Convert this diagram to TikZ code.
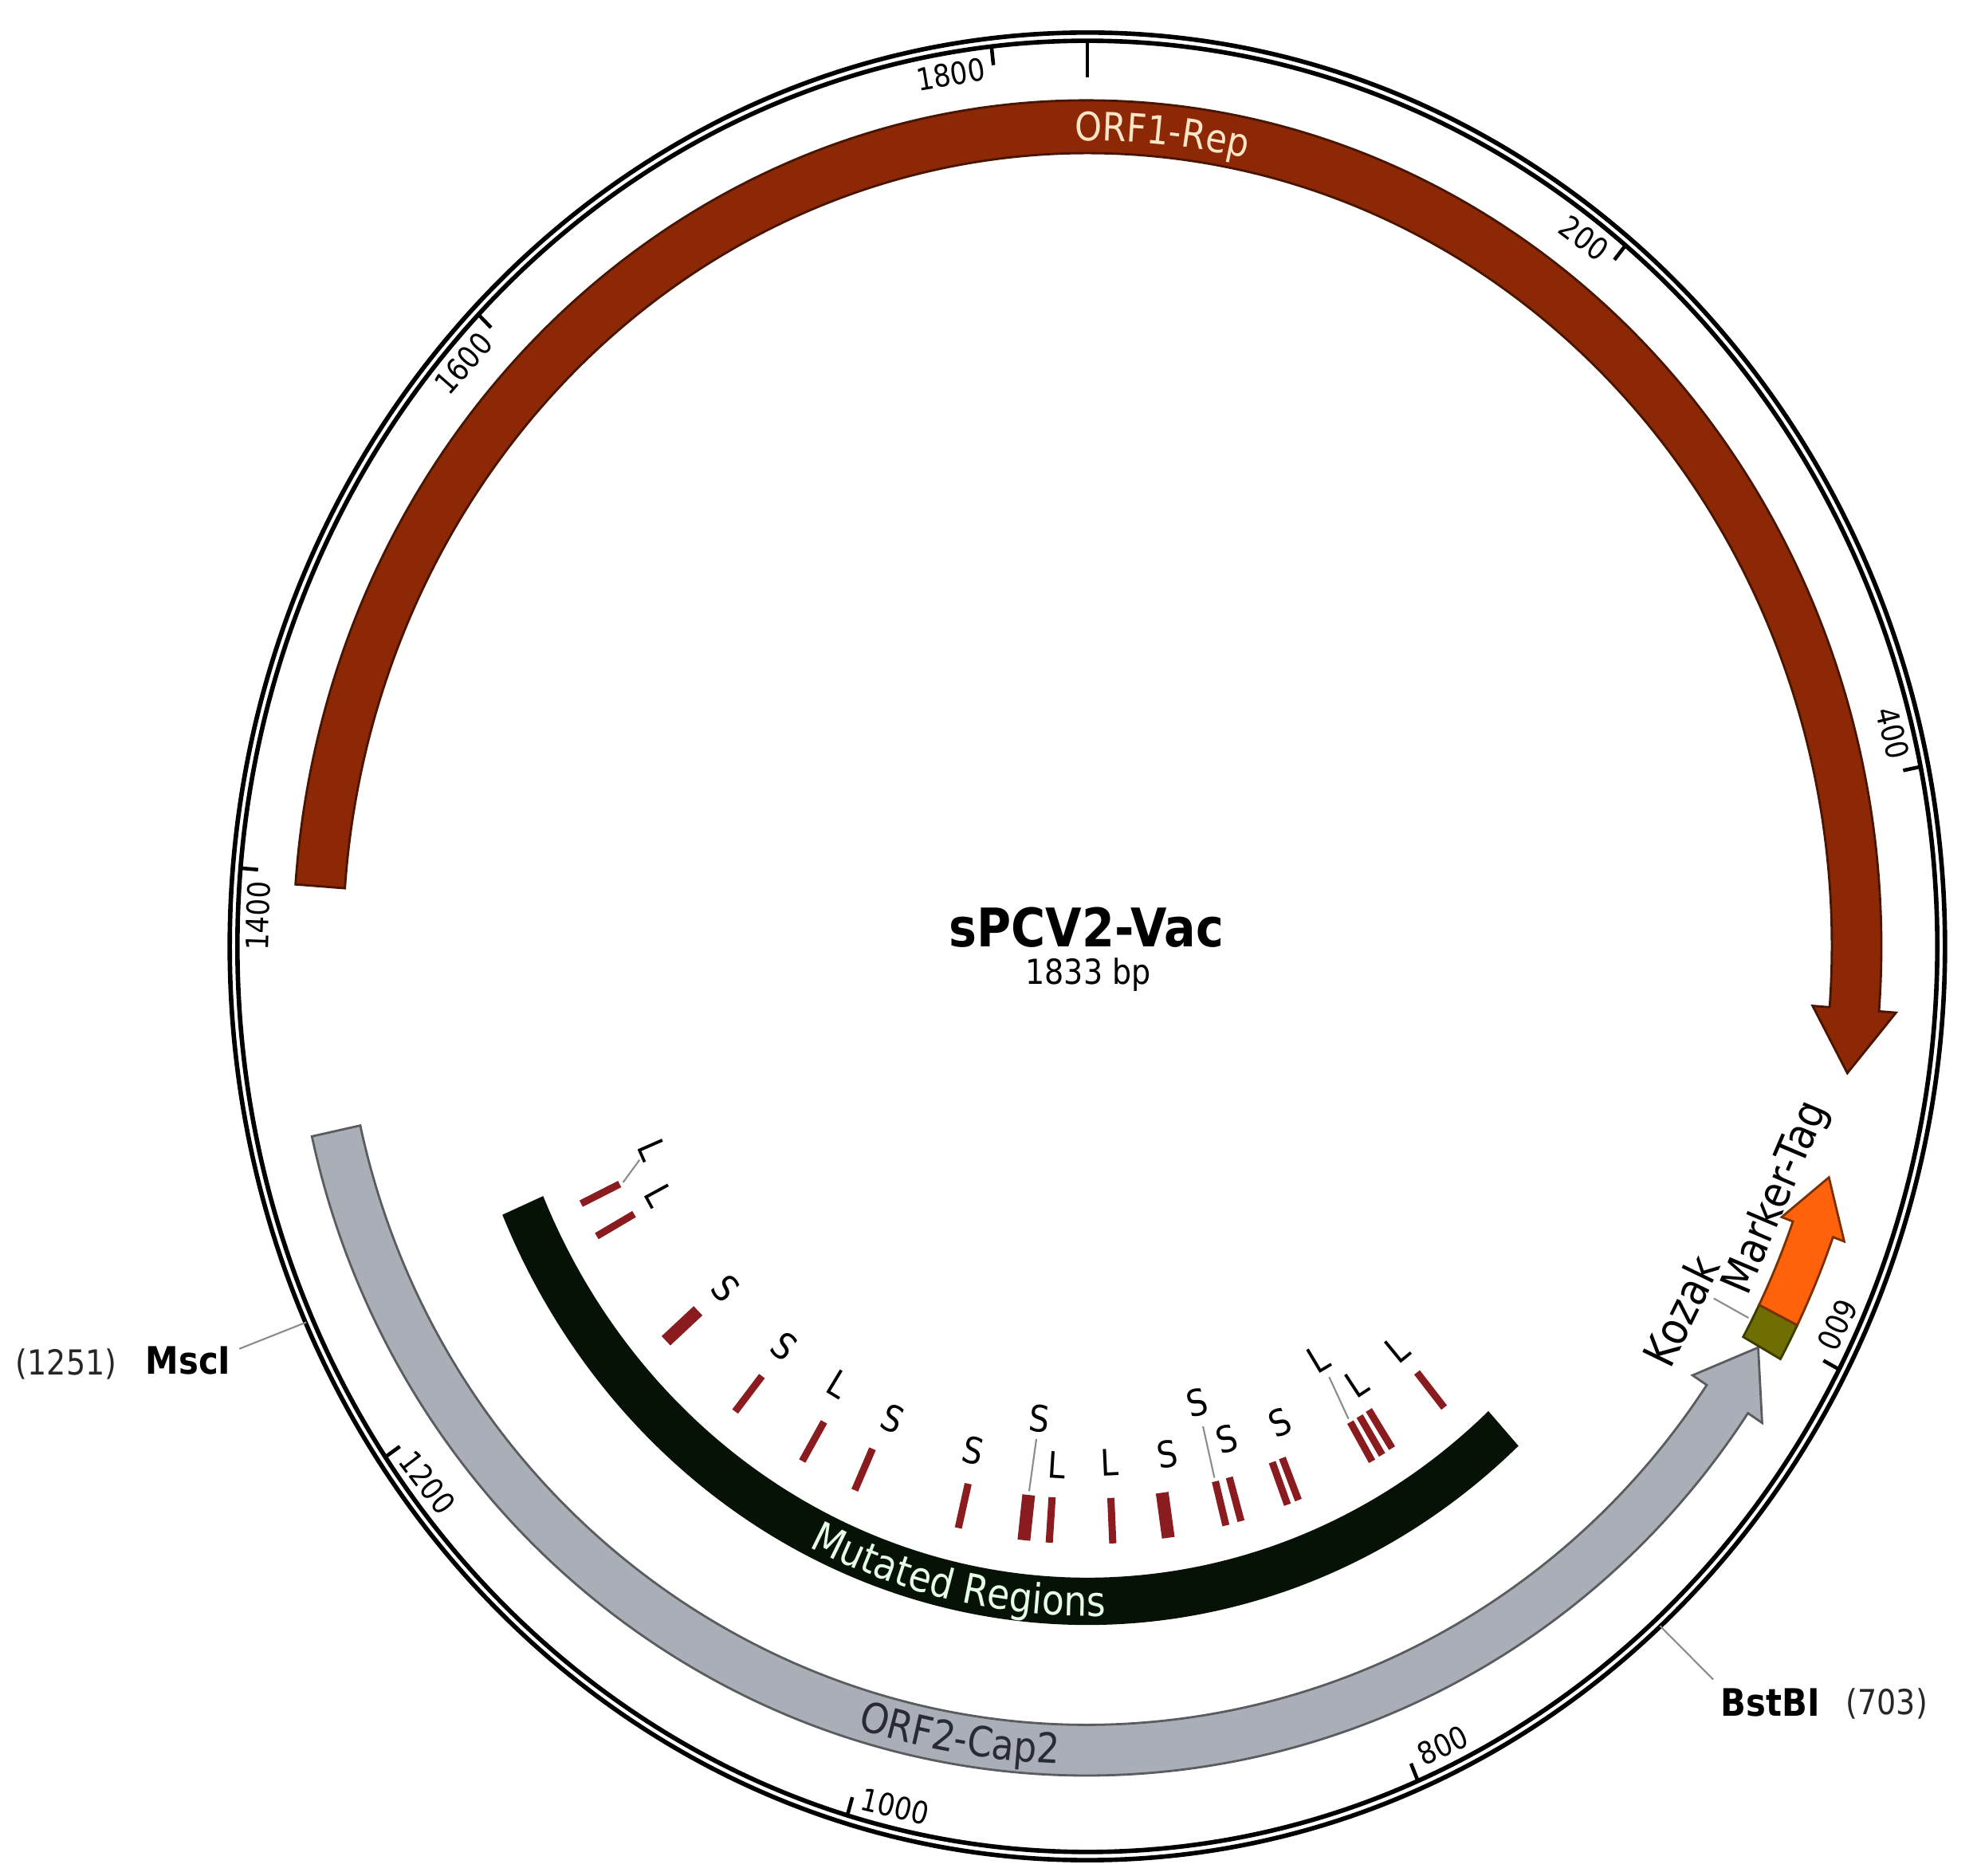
\documentclass[tikz,border=0pt]{standalone}
\usepackage{fontspec}
\setmainfont{DejaVu Sans}[FakeStretch=0.88]
\usetikzlibrary{decorations.text}
\definecolor{orfone}{HTML}{8C2805}
\definecolor{orfoneline}{HTML}{4A1500}
\definecolor{orfonetxt}{HTML}{FFE6C8}
\definecolor{orftwo}{HTML}{AAAFB7}
\definecolor{orftwoline}{HTML}{5A5C60}
\definecolor{orftwotxt}{HTML}{2A2A35}
\definecolor{mutband}{HTML}{061206}
\definecolor{muttxt}{HTML}{E6FFE6}
\definecolor{mutbar}{HTML}{8A1C20}
\definecolor{kozakc}{HTML}{6E6E05}
\definecolor{kozakline}{HTML}{3C3C00}
\definecolor{markerc}{HTML}{FF620A}
\definecolor{markerline}{HTML}{7A3000}
\definecolor{leadc}{HTML}{8C8C8C}
\newcommand\featfont{\fontsize{14}{14}\selectfont}
\newcommand\featfontb{\fontsize{14.8}{14.8}\selectfont}
\begin{document}
\begin{tikzpicture}[
  ringline/.style={line width=1.6pt, black},
  tickline/.style={line width=1.3pt, black},
  ticklab/.style={font=\fontsize{11}{11}\selectfont, inner sep=0pt},
  mutlab/.style={font=\fontsize{13}{13}\selectfont, inner sep=0pt},
  barthin/.style={line width=0.09cm, mutbar},
  barthick/.style={line width=0.16cm, mutbar},
  leaderline/.style={line width=0.6pt, leadc},
  featshape/.style={line width=0.8pt},
  enzname/.style={font=\bfseries\fontsize{13.5}{14}\selectfont, inner sep=0pt},
  enzpos/.style={font=\fontsize{12.3}{13}\selectfont, inner sep=0pt, text=black!85},
  sitelab/.style={font=\fontsize{15.5}{15.5}\selectfont, inner sep=0pt},
]
\fill[white] (0,0) rectangle (24.80,23.52);
\useasboundingbox (0,0) rectangle (24.80,23.52);

% ORF2-Cap2 (its track sits a little higher at the bottom of the map)
\begin{scope}[shift={(13.64,11.4583)}, xscale=10.71, yscale=10.976]
  \draw[featshape, fill=orftwo, draw=orftwoline]
    (-167.6:0.872) arc[start angle=-167.6, end angle=-33.7, radius=0.872]
    -- (-33.7:0.852) -- (-29.3:0.901) -- (-33.7:0.950) -- (-33.7:0.930)
    arc[start angle=-33.7, end angle=-167.6, radius=0.930] -- cycle;
\end{scope}

\begin{scope}[shift={(13.64,11.65)}, xscale=10.71, yscale=11.41]
  % ORF1-Rep
  \draw[featshape, fill=orfone, draw=orfoneline]
    (175.8:0.930) arc[start angle=175.8, end angle=-4.4, radius=0.930]
    -- (-4.4:0.950) -- (-8.9:0.901) -- (-4.4:0.852) -- (-4.4:0.872)
    arc[start angle=-4.4, end angle=175.8, radius=0.872] -- cycle;
  % Kozak
  \draw[featshape, fill=kozakc, draw=kozakline]
    (-29.2:0.880) arc[start angle=-29.2, end angle=-26.6, radius=0.880]
    -- (-26.6:0.930) arc[start angle=-26.6, end angle=-29.2, radius=0.930] -- cycle;
  % Marker-Tag
  \draw[featshape, fill=markerc, draw=markerline]
    (-26.6:0.880) arc[start angle=-26.6, end angle=-20.1, radius=0.880]
    -- (-20.1:0.866) -- (-16.3:0.905) -- (-20.1:0.944) -- (-20.1:0.930)
    arc[start angle=-20.1, end angle=-26.6, radius=0.930] -- cycle;
  % Mutated regions band
  \fill[mutband]
    (-156.7:0.746) arc[start angle=-156.7, end angle=-47.4, radius=0.746]
    -- (-47.4:0.694) arc[start angle=-47.4, end angle=-156.7, radius=0.694] -- cycle;

  % ring
  \draw[ringline] (0,0) circle[radius=1.0045];
  \draw[ringline] (0,0) circle[radius=0.9955];
  % ticks
  \draw[tickline] (90:0.9955) -- (90:0.955);
  \foreach \a in {50.72,11.44,-27.84,-67.12,-106.40,-145.68,175.04,135.76,96.48}
    \draw[tickline] (\a:0.9955) -- (\a:0.975);
  \foreach \a/\rt/\t in {53.22/-36.78/200, 13.94/-76.06/400, -25.34/-115.34/600,
      -64.62/25.38/800, -103.40/-13.40/1000, -142.68/-52.68/1200,
      178.04/88.04/1400, 138.76/48.76/1600, 99.48/9.48/1800}
    \node[ticklab, rotate=\rt] (tick\t) at (\a:0.972) {\t};

  % mutation bars
  \foreach \a in {-154.5,-151.0,-128.9,-120.55,-114.5,-103.3,-93.9,-87.4,-75.7,-74.1,-69.1,-67.9,-59.5,-58.3,-57.1,-50.5}
    \draw[barthin] (\a:0.607) -- (\a:0.657);
  \foreach \a in {-138.7,-96.5,-81.7}
    \draw[barthick] (\a:0.607) -- (\a:0.657);
  % mutation labels
  \foreach \a/\rr/\t [count=\i] in {-156.3/0.557/L, -151.4/0.572/L, -138.4/0.567/S,
      -128.9/0.565/S, -121.2/0.563/L, -113.7/0.567/S, -103.6/0.570/S,
      -96.2/0.522/S, -93.6/0.571/L, -87.4/0.568/L, -80.5/0.566/S,
      -75.6/0.518/S, -73.2/0.566/S, -66.7/0.570/S, -59.2/0.528/L,
      -56.7/0.575/L, -50.7/0.573/L}
    \node[mutlab, rotate=\a+90] (mut\i) at (\a:\rr) {\t};
  % leaders of mutation labels
  \coordinate (la1) at (-154.5:0.603); \coordinate (la2) at (-155.9:0.575);
  \coordinate (lb1) at (-96.5:0.603);  \coordinate (lb2) at (-96.3:0.545);
  \coordinate (lc1) at (-75.7:0.603);  \coordinate (lc2) at (-75.6:0.545);
  \coordinate (ld1) at (-59.5:0.603);  \coordinate (ld2) at (-59.1:0.552);
  \draw[leaderline] (la1) -- (la2);
  \draw[leaderline] (lb1) -- (lb2);
  \draw[leaderline] (lc1) -- (lc2);
  \draw[leaderline] (ld1) -- (ld2);

  % Kozak / Marker-Tag labels
  \coordinate (kozsite) at (-27.8:0.876);
  \coordinate (kozend) at (-27.8:0.830);
  \draw[leaderline] (kozsite) -- (kozend);
  \node[sitelab, font=\fontsize{16}{16}\selectfont, rotate=64] (kozak) at (-29.97:0.8024) {Kozak};
  \node[sitelab, rotate=67] (marker) at (-18.91:0.8532) {Marker-Tag};

  % restriction sites
  \coordinate (mscsite) at (-155.7:1.0045);
  \coordinate (mscend) at (-156.0:1.088);
  \coordinate (bstsite) at (-48.07:1.0045);
  \coordinate (bstend) at (-47.7:1.09);
  \draw[leaderline] (mscsite) -- (mscend);
  \draw[leaderline] (bstsite) -- (bstend);
\end{scope}

% curved feature labels
\begin{scope}[shift={(13.64,11.65)}]
  \path[decorate, decoration={text along path, text align=center, text color=orfonetxt,
      text={|\featfont|ORF1-Rep}}]
    (114.5:9.489cm and 10.109cm) arc[start angle=114.5, end angle=54.5, x radius=9.489cm, y radius=10.109cm];
  \path[decorate, decoration={text along path, text align=center, text color=muttxt,
      text={|\featfontb|Mutated Regions}}]
    (-147:7.883cm and 8.398cm) arc[start angle=-147, end angle=-57, x radius=7.883cm, y radius=8.398cm];
\end{scope}
\begin{scope}[shift={(13.64,11.4583)}]
  \path[decorate, decoration={text along path, text align=center, text color=orftwotxt,
      text={|\featfontb|ORF2-Cap2}}]
    (-139.5:9.821cm and 10.065cm) arc[start angle=-139.5, end angle=-59.5, x radius=9.821cm, y radius=10.065cm];
\end{scope}

% centre
\node[font=\bfseries\fontsize{19}{19}\selectfont, inner sep=0pt] (title) at (13.63,11.89) {sPCV2-Vac};
\node[font=\fontsize{12.3}{12.3}\selectfont, inner sep=0pt] (size) at (13.65,11.29) {1833 bp};

% enzyme labels
\node[enzname, anchor=base east] (mscname) at (2.90,6.29) {MscI};
\node[enzpos, anchor=base east] (mscpos) at (1.47,6.28) {(1251)};
\node[enzname, anchor=base west] (bstname) at (21.58,2.00) {BstBI};
\node[enzpos, anchor=base west] (bstpos) at (23.15,2.02) {(703)};
\end{tikzpicture}
\end{document}
